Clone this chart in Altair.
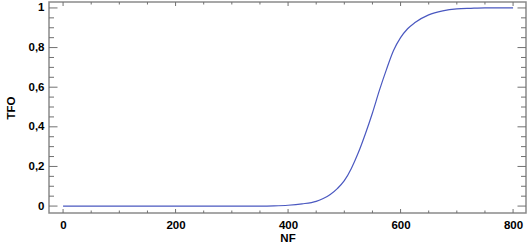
import altair as alt
import pandas as pd

nf = [0, 50, 100, 150, 200, 250, 300, 350, 375, 400, 425, 450, 462.5, 475, 487.5, 500,
      512.5, 525, 537.5, 550, 562.5, 575, 587.5, 600, 612.5, 625, 650, 675, 700, 725,
      750, 775, 800]
tfo = [0, 0, 0, 0, 0, 0, 0, 0, 0.001, 0.004, 0.011, 0.024, 0.038, 0.058, 0.088, 0.128,
       0.19, 0.27, 0.365, 0.47, 0.585, 0.69, 0.785, 0.85, 0.895, 0.925, 0.965, 0.985,
       0.995, 0.998, 1.0, 1.0, 1.0]

x_major = [0, 200, 400, 600, 800]
x_minor = [v for v in range(0, 801, 50) if v % 200 != 0]
y_major = [0, 0.2, 0.4, 0.6, 0.8, 1.0]
y_minor = [round(i * 0.05, 2) for i in range(0, 21) if i % 4 != 0]

W, H = 477, 211
XD = [-25, 823]
YD = [-0.035, 1.03]
FONT = "Liberation Sans"
TICK = "#707070"

df = pd.DataFrame({"NF": nf, "TFO": tfo})
xs = alt.Scale(domain=XD, nice=False, zero=False)
ys = alt.Scale(domain=YD, nice=False, zero=False)

line = alt.Chart(df).mark_line(color="#4a58c0", strokeWidth=1.2, interpolate="monotone").encode(
    x=alt.X("NF:Q", scale=xs, title="NF",
            axis=alt.Axis(values=x_major, domain=False, ticks=False, grid=False,
                          labelPadding=6, labelFontSize=11.5, labelFontWeight="bold",
                          labelFont=FONT, labelColor="black", titleFont=FONT,
                          titleFontSize=11.5, titleFontWeight="bold", titleColor="black",
                          titlePadding=2)),
    y=alt.Y("TFO:Q", scale=ys, title="TFO",
            axis=alt.Axis(values=y_major, domain=False, ticks=False, grid=False,
                          labelExpr="replace(format(datum.value, '~g'), '.', ',')",
                          labelPadding=5, labelFontSize=11.5, labelFontWeight="bold",
                          labelFont=FONT, labelColor="black", titleFont=FONT,
                          titleFontSize=11.5, titleFontWeight="bold", titleColor="black",
                          titlePadding=12)),
)

xM = pd.DataFrame({"v": x_major})
xm = pd.DataFrame({"v": x_minor})
yM = pd.DataFrame({"v": y_major})
ym = pd.DataFrame({"v": y_minor})

def xt(d, length):
    b = alt.Chart(d).mark_rule(color=TICK, strokeWidth=1)
    bottom = b.encode(x=alt.X("v:Q", scale=xs), y=alt.value(H), y2=alt.value(H - length))
    top = b.encode(x=alt.X("v:Q", scale=xs), y=alt.value(0), y2=alt.value(length))
    return [bottom, top]

def yt(d, length):
    b = alt.Chart(d).mark_rule(color=TICK, strokeWidth=1)
    left = b.encode(y=alt.Y("v:Q", scale=ys), x=alt.value(0), x2=alt.value(length))
    right = b.encode(y=alt.Y("v:Q", scale=ys), x=alt.value(W), x2=alt.value(W - length))
    return [left, right]

layers = xt(xM, 4) + xt(xm, 2.5) + yt(yM, 8.5) + yt(ym, 5) + [line]

chart = alt.layer(*layers).properties(
    width=W, height=H,
    autosize=alt.AutoSizeParams(type="none"),
    padding={"left": 49, "top": 2, "right": 2, "bottom": 34},
    background="white",
).configure_view(stroke="#8a8a8a", strokeWidth=1.5)

chart.save("out.html", embed_options={"renderer": "svg", "actions": False})
